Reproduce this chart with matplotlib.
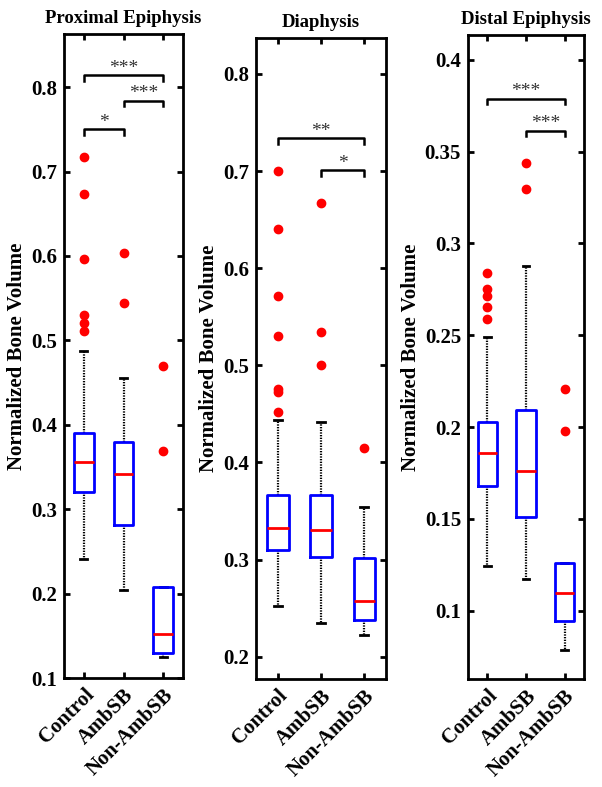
import matplotlib
matplotlib.use("Agg")
import matplotlib.pyplot as plt

plt.rcParams["font.family"] = ["Liberation Serif", "DejaVu Serif"]
plt.rcParams["font.weight"] = "bold"

groups = ["Control", "AmbSB", "Non-AmbSB"]

# ---- Proximal epiphysis --------------------------------------
prox_q1 = [0.320, 0.281, 0.130]
prox_med = [0.356, 0.342, 0.152]
prox_q3 = [0.390, 0.380, 0.208]
prox_lo = [0.241, 0.204, 0.125]
prox_hi = [0.488, 0.456, 0.208]
prox_out = [[0.717, 0.673, 0.597, 0.530, 0.521, 0.511],
            [0.603, 0.544],
            [0.470, 0.369]]
prox_sig = [(1, 3, 0.8145, "***"), (2, 3, 0.784, "***"), (1, 2, 0.750, "*")]

# ---- Diaphysis -----------------------------------------------
dia_q1 = [0.310, 0.303, 0.238]
dia_med = [0.332, 0.330, 0.257]
dia_q3 = [0.366, 0.366, 0.302]
dia_lo = [0.252, 0.235, 0.222]
dia_hi = [0.444, 0.442, 0.354]
dia_out = [[0.700, 0.640, 0.571, 0.530, 0.476, 0.472, 0.452],
           [0.667, 0.534, 0.500],
           [0.415]]
dia_sig = [(1, 3, 0.734, "**"), (2, 3, 0.7007, "*")]

# ---- Distal epiphysis ----------------------------------------
dist_q1 = [0.168, 0.151, 0.0943]
dist_med = [0.186, 0.176, 0.1098]
dist_q3 = [0.203, 0.209, 0.126]
dist_lo = [0.124, 0.1174, 0.0785]
dist_hi = [0.249, 0.2877, 0.126]
dist_out = [[0.2838, 0.275, 0.2714, 0.2655, 0.2587],
            [0.344, 0.3297],
            [0.2205, 0.198]]
dist_sig = [(1, 3, 0.379, "***"), (2, 3, 0.3615, "***")]

panels = [
    ("Proximal Epiphysis", prox_q1, prox_med, prox_q3, prox_lo, prox_hi, prox_out, prox_sig,
     (0.1, 0.863), [0.1, 0.2, 0.3, 0.4, 0.5, 0.6, 0.7, 0.8], "{:.1f}",
     [64 / 602, 109 / 787, 119 / 602, 644 / 787]),
    ("Diaphysis", dia_q1, dia_med, dia_q3, dia_lo, dia_hi, dia_out, dia_sig,
     (0.177, 0.837), [0.2, 0.3, 0.4, 0.5, 0.6, 0.7, 0.8], "{:.1f}",
     [256 / 602, 108 / 787, 130 / 602, 641 / 787]),
    ("Distal Epiphysis", dist_q1, dist_med, dist_q3, dist_lo, dist_hi, dist_out, dist_sig,
     (0.0627, 0.4136), [0.1, 0.15, 0.2, 0.25, 0.3, 0.35, 0.4], "{:g}",
     [468 / 602, 108 / 787, 116 / 602, 644 / 787]),
]

fig = plt.figure(figsize=(6.02, 7.87), dpi=100)

for (titre, q1, med, q3, lo, hi, out, sig, ylim, yticks, fmt, rect) in panels:
    ax = fig.add_axes(rect)
    stats = []
    for i in range(3):
        stats.append({"q1": q1[i], "med": med[i], "q3": q3[i],
                      "whislo": lo[i], "whishi": hi[i], "fliers": out[i]})
    ax.bxp(stats, positions=[1, 2, 3], widths=0.5, capwidths=0.18,
           boxprops=dict(color="#0000ff", linewidth=2, zorder=4),
           medianprops=dict(color="#ff0000", linewidth=2, zorder=5),
           whiskerprops=dict(color="black", linewidth=1.6, linestyle=(0, (0.6, 0.6))),
           capprops=dict(color="black", linewidth=2),
           flierprops=dict(marker="o", markerfacecolor="#ff0000",
                           markeredgecolor="#ff0000", markersize=6))

    # ---- barres de significativité ----
    h = (ylim[1] - ylim[0]) * 0.009
    for (a, b, y, s) in sig:
        ax.plot([a, a, b, b], [y - h, y, y, y - h], color="black", linewidth=1.8)
        ax.text((a + b) / 2, y - h * 0.3, s, ha="center", va="bottom", fontsize=14,
                color="#333333", fontweight="normal")

    ax.set_xlim(0.5, 3.5)
    ax.set_ylim(*ylim)
    ax.set_yticks(yticks)
    ax.set_yticklabels([fmt.format(v) for v in yticks])
    ax.set_xticks([1, 2, 3])
    ax.set_xticklabels(groups, rotation=45, ha="right", rotation_mode="anchor")
    ax.tick_params(direction="in", length=4, width=2, labelsize=15,
                   top=True, right=True, pad=5)
    for sp in ax.spines.values():
        sp.set_linewidth(2)
    ax.set_ylabel("Normalized Bone Volume", fontsize=15, fontweight="bold", labelpad=3)
    ax.set_title(titre, fontsize=13.5, fontweight="bold", pad=8)

plt.savefig("out.png", dpi=100)
plt.close()
